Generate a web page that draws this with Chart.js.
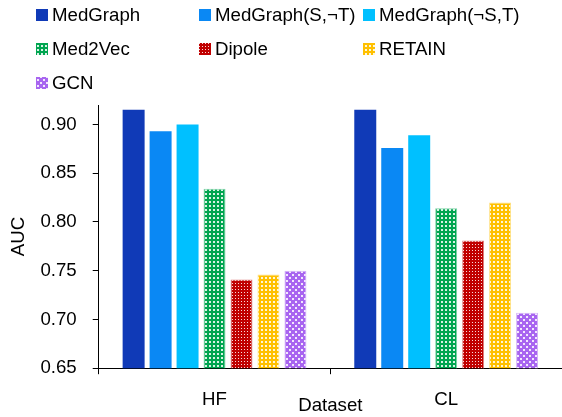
<!DOCTYPE html>
<html>
<head>
<meta charset="utf-8">
<script src="https://cdn.jsdelivr.net/npm/chart.js@4.4.1/dist/chart.umd.min.js"></script>
<style>
  html, body { margin: 0; padding: 0; background: #fff; }
  #wrap { width: 562px; height: 417px; position: relative; }
</style>
</head>
<body>
<div id="wrap"><canvas id="chart"></canvas></div>
<script>
// data
const categories = ['HF', 'CL']
const seriesNames = ['MedGraph', 'MedGraph(S,\u00acT)', 'MedGraph(\u00acS,T)', 'Med2Vec', 'Dipole', 'RETAIN', 'GCN']
const medGraph = [0.915, 0.915]
const medGraphS = [0.893, 0.876]
const medGraphT = [0.900, 0.889]
const med2vec = [0.834, 0.814]
const dipole = [0.741, 0.781]
const retain = [0.746, 0.820]
const gcn = [0.750, 0.707]
const yTicks = [0.65, 0.70, 0.75, 0.80, 0.85, 0.90]

const FONT = '"Liberation Sans", Arial, sans-serif'

// dotted fills like the Excel pattern bars
function dots(color, size, spots) {
  const c = document.createElement('canvas')
  c.width = size
  c.height = size
  const g = c.getContext('2d')
  g.fillStyle = color
  g.fillRect(0, 0, size, size)
  g.fillStyle = 'rgba(255,255,255,0.85)'
  spots.forEach(s => g.fillRect(s[0], s[1], s[2], s[3]))
  return g.createPattern(c, 'repeat')
}

const fills = [
  '#103AB7',
  '#0A88F4',
  '#00C0FF',
  dots('#00A550', 4, [[1, 1, 2, 2]]),
  dots('#C00000', 3, [[1, 1, 1, 1]]),
  dots('#FFC000', 4, [[1, 1, 2, 2]]),
  dots('#A865F0', 6, [[1, 1, 2, 2], [4, 4, 2, 2]]),
]
const edges = [null, null, null, '#7fd2a7', '#e08080', '#ffe080', '#d4b2f8']
const values = [medGraph, medGraphS, medGraphT, med2vec, dipole, retain, gcn]

// legend laid out in a 3 column grid like the original
const legendCols = [36, 199, 363]
const legendRows = [15, 49, 83]
const gridLegend = {
  id: 'gridLegend',
  afterDraw(chart) {
    const ctx = chart.ctx
    ctx.save()
    ctx.font = '18.67px ' + FONT
    ctx.textBaseline = 'middle'
    chart.data.datasets.forEach((ds, i) => {
      const x = legendCols[i % 3]
      const y = legendRows[Math.floor(i / 3)]
      ctx.fillStyle = ds.backgroundColor
      ctx.fillRect(x, y - 6, 12, 12)
      ctx.fillStyle = '#000'
      ctx.fillText(ds.label, x + 16, y + 1)
    })
    ctx.restore()
  }
}

new Chart(document.getElementById('chart').getContext('2d'), {
  type: 'bar',
  data: {
    labels: categories,
    datasets: seriesNames.map((name, i) => ({
      label: name,
      data: values[i],
      backgroundColor: fills[i],
      borderColor: edges[i] || fills[i],
      borderWidth: edges[i] ? 1 : 0,
      categoryPercentage: 0.815,
      barPercentage: 0.815,
    })),
  },
  options: {
    responsive: true,
    maintainAspectRatio: false,
    animation: false,
    layout: { padding: { top: 105, left: 0, right: 0, bottom: 0 } },
    plugins: {
      legend: { display: false },
      tooltip: { enabled: false },
    },
    scales: {
      y: {
        min: 0.65,
        max: 0.92,
        afterBuildTicks: axis => { axis.ticks = yTicks.map(v => ({ value: v })) },
        ticks: {
          padding: 16,
          color: '#000',
          font: { size: 18.67, family: FONT },
          callback: v => v.toFixed(2),
        },
        grid: { drawOnChartArea: false, drawTicks: true, tickLength: 6, color: '#000' },
        border: { display: true, color: '#000', width: 1 },
        title: {
          display: true,
          text: 'AUC',
          color: '#000',
          font: { size: 18.67, family: FONT },
          padding: { top: 8, bottom: -6 },
        },
      },
      x: {
        ticks: {
          padding: 14,
          color: '#000',
          font: { size: 18.67, family: FONT },
        },
        grid: { offset: true, drawOnChartArea: false, drawTicks: true, tickLength: 6, color: '#000' },
        border: { display: true, color: '#000', width: 1 },
        title: {
          display: true,
          text: 'Dataset',
          color: '#000',
          font: { size: 18.67, family: FONT },
          padding: { top: -30, bottom: 0 },
        },
      },
    },
  },
  plugins: [gridLegend],
})
</script>
</body>
</html>
